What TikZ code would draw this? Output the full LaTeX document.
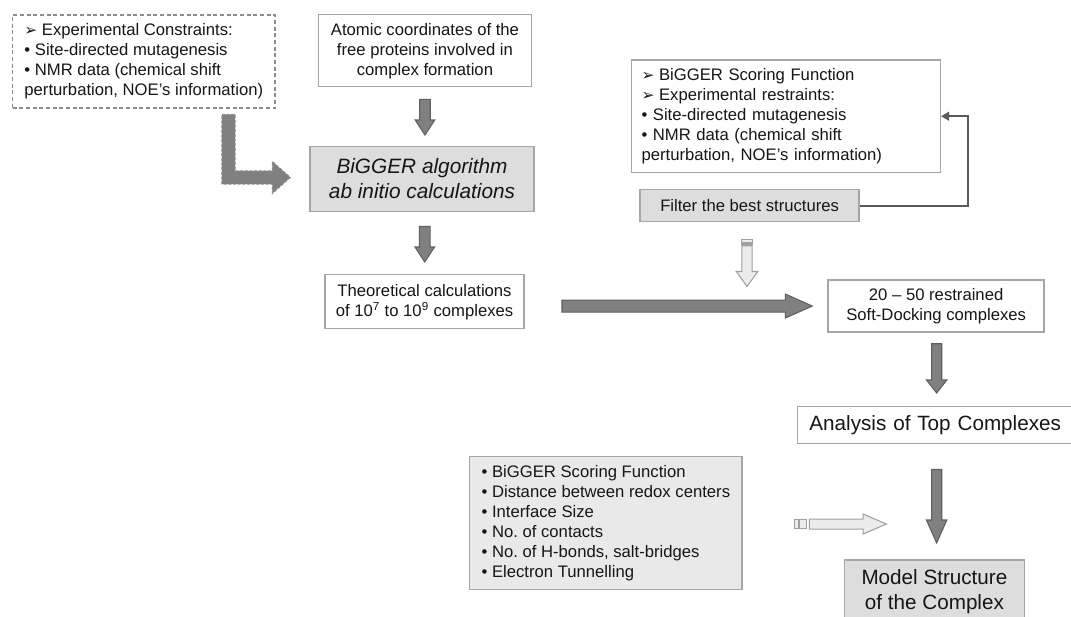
\documentclass[tikz,border=0pt]{standalone}
\usepackage{fontspec}
\setmainfont{Liberation Sans}
\newfontfamily\dingfont{DejaVu Sans}
\usetikzlibrary{calc,arrows.meta}
\frenchspacing
\definecolor{boxline}{HTML}{A6A6A6}
\definecolor{boxfill}{HTML}{DDDDDD}
\definecolor{critfill}{HTML}{E9E9E9}
\definecolor{darkfill}{HTML}{808080}
\definecolor{darkline}{HTML}{606060}
\definecolor{lightfill}{HTML}{ECECEC}
\definecolor{lightline}{HTML}{A0A0A0}
\definecolor{txt}{HTML}{161616}
\definecolor{fbline}{HTML}{5A5A5A}
\definecolor{dashline}{HTML}{8C8C8C}
\newcommand\harr{{\dingfont\fontsize{11.5}{15}\selectfont ➢}\hspace{3.5pt}}
% #1 style, #2 top coordinate, #3 tip coordinate, #4 shaft half width, #5 head half width, #6 head length
\newcommand\vblock[6]{%
  \coordinate (vbt) at (#2|-#3);
  \path[#1] ($(#2)+(-#4,0)$) -- ($(#2)+(#4,0)$) -- ($(vbt)+(#4,-#6)$) -- ($(vbt)+(#5,-#6)$) -- (vbt)
    -- ($(vbt)+(-#5,-#6)$) -- ($(vbt)+(-#4,-#6)$) -- cycle;}
\newcommand\hblock[6]{%
  \coordinate (hbt) at (#3|-#2);
  \path[#1] ($(#2)+(0,-#4)$) -- ($(hbt)+(-#6,-#4)$) -- ($(hbt)+(-#6,-#5)$) -- (hbt)
    -- ($(hbt)+(-#6,#5)$) -- ($(hbt)+(-#6,#4)$) -- ($(#2)+(0,#4)$) -- cycle;}
\tikzset{
  box/.style={draw=boxline, line width=1.1pt, rectangle, inner ysep=0pt, text=txt,
    font=\fontsize{12.5}{15}\selectfont\frenchspacing, anchor=north west},
  cbox/.style={box, inner xsep=0pt, align=center},
  lbox/.style={box, inner xsep=#1, align=left},
  darrow/.style={draw=darkline, fill=darkfill, line width=0.8pt, line join=miter},
  larrow/.style={draw=lightline, fill=lightfill, line width=0.8pt},
  fbarrow/.style={draw=fbline, line width=1.5pt, -{Triangle[length=6pt,width=6.5pt]}},
}
\begin{document}
\begin{tikzpicture}[x=0.75pt,y=-0.75pt]
\useasboundingbox (0,0) rectangle (1071,617);
\fill[white] (0,0) rectangle (1071,617);
\clip (0,0) rectangle (1071,617);

% boxes
\node[lbox=0pt, draw=dashline, dash pattern=on 3pt off 2pt, minimum width=196.9pt, minimum height=69.75pt]
  (cons) at (11.8,14.3) {\harr Experimental Constraints:\\ • Site-directed mutagenesis\\ • NMR data (chemical shift\\ perturbation, NOE’s information)};
\node[cbox, minimum width=160.1pt, minimum height=54pt] (atom) at (317.5,14)
  {Atomic coordinates of the\\ free proteins involved in\\ complex formation};
\node[cbox, fill=boxfill, minimum width=168pt, minimum height=48.75pt,
  font=\fontsize{15.6}{18.75}\selectfont\itshape] (algo) at (309.3,145.7)
  {BiGGER algorithm\\ ab initio calculations};
\node[cbox, minimum width=149.25pt, minimum height=40.5pt] (theo) at (324.3,274)
  {Theoretical calculations\\ of 10\textsuperscript{7} to 10\textsuperscript{9} complexes};
\node[lbox=7.5pt, text width=216.6pt, minimum height=84.3pt] (score) at (630.8,59.3)
  {\harr BiGGER Scoring Function\\ \harr Experimental restraints:\\ • Site-directed mutagenesis\\ • NMR data (chemical shift\\ perturbation, NOE’s information)};
\node[cbox, fill=boxfill, minimum width=164.25pt, minimum height=24pt] (filter) at (639.4,189)
  {Filter the best structures};
\node[cbox, minimum width=162pt, minimum height=39pt] (soft) at (827.4,279.3)
  {20 – 50 restrained\\ Soft-Docking complexes};
\node[lbox=9pt, text width=207pt, minimum height=27.75pt, font=\fontsize{15.5}{18.75}\selectfont]
  (analysis) at (796.7,406) {Analysis of Top Complexes};
\node[lbox=0pt, fill=critfill, minimum width=204.5pt, minimum height=99.75pt] (crit) at (468.8,456)
  {• BiGGER Scoring Function\\ • Distance between redox centers\\ • Interface Size\\ • No. of contacts\\ • No. of H-bonds, salt-bridges\\ • Electron Tunnelling};
\node[cbox, fill=boxfill, minimum width=135pt, minimum height=47.25pt, font=\fontsize{15.5}{18.75}\selectfont]
  (model) at (843.7,559.3) {Model Structure\\ of the Complex};

% dark block arrows
\coordinate (a1s) at ($(atom.south)+(0,12)$);
\coordinate (a1e) at ($(algo.north)+(0,-10.7)$);
\vblock{darrow}{a1s}{a1e}{5.3}{9.8}{15}
\coordinate (a2s) at ($(algo.south)+(2.7,14.3)$);
\coordinate (a2e) at ($(theo.north)+(0,-12)$);
\vblock{darrow}{a2s}{a2e}{5.3}{9.8}{15}
\coordinate (a3s) at ($(soft.south)+(0.5,11)$);
\coordinate (a3e) at ($(analysis.north)+(0,-13)$);
\vblock{darrow}{a3s}{a3e}{5.1}{10.2}{13}
\coordinate (a4s) at ($(a3s|-analysis.south)+(0,25)$);
\coordinate (a4e) at ($(model.north)+(0,-16.3)$);
\vblock{darrow}{a4s}{a4e}{5.1}{10.2}{23}
\coordinate (be) at ($(soft.west)+(-15.1,0)$);
\coordinate (bs) at ($(theo.east|-be)+(37.2,0)$);
\hblock{darrow}{bs}{be}{6}{12}{27}

% dashed L-shaped arrow
\coordinate (ls) at ($(cons.south east)+(-47.3,5.7)$);
\coordinate (le) at ($(algo.west)+(-19,-1.5)$);
\coordinate (lc) at (ls|-le);
\path[darrow, draw=dashline, dash pattern=on 2.2pt off 1.3pt]
  ($(ls)+(-6.65,0)$) -- ($(ls)+(6.65,0)$) -- ($(lc)+(6.65,-6.65)$) -- ($(le)+(-18,-6.65)$)
  -- ($(le)+(-18,-16)$) -- (le) -- ($(le)+(-18,16)$) -- ($(le)+(-18,6.65)$)
  -- ($(lc)+(-6.65,6.65)$) -- cycle;

% light striped arrow (down)
\coordinate (ld) at ($(filter.south)+(-2.6,17.3)$);
\coordinate (ldt) at ($(ld)+(0,46.7)$);
\coordinate (ldh) at ($(ld)+(0,6)$);
\path[larrow] ($(ld)+(-5.15,0)$) rectangle ($(ld)+(5.15,2.4)$);
\path[larrow] ($(ld)+(-5.15,3.4)$) rectangle ($(ld)+(5.15,5)$);
\vblock{larrow}{ldh}{ldt}{5.15}{10.8}{15}

% light striped arrow (right)
\coordinate (lh) at ($(crit.east)+(51.8,0.8)$);
\coordinate (lht) at ($(lh)+(91.7,0)$);
\coordinate (lhh) at ($(lh)+(14.7,0)$);
\path[larrow] ($(lh)+(0,-4.5)$) rectangle ($(lh)+(3.4,4.5)$);
\path[larrow] ($(lh)+(5,-4.5)$) rectangle ($(lh)+(11.7,4.5)$);
\hblock{larrow}{lhh}{lht}{5}{10}{23.3}

% feedback connector
\draw[fbarrow] (filter.east) -| ($(score.east)+(27,0)$) -- (score.east);
\end{tikzpicture}
\end{document}
